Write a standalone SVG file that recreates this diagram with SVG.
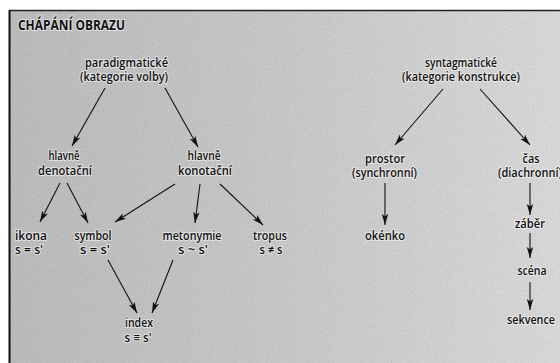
<svg xmlns="http://www.w3.org/2000/svg" width="560" height="363" viewBox="0 0 560 363">
<style>
text{font-family:"Open Sans","Liberation Sans",sans-serif;font-size:13px;font-weight:600;fill:#111;text-anchor:middle;paint-order:stroke;stroke:#f2f2f2;stroke-width:2.2px;stroke-opacity:0.7;stroke-linejoin:round}
.title{font-weight:700;font-size:13.5px;text-anchor:start}
.c line{stroke:#111;stroke-width:1.1;marker-end:url(#ah)}
</style>
<defs>
<linearGradient id="bg" x1="0" y1="0" x2="1" y2="0">
<stop offset="0" stop-color="#b9b9b9"/>
<stop offset="0.45" stop-color="#c6c6c6"/>
<stop offset="1" stop-color="#dcdcdc"/>
</linearGradient>
<filter id="noise" x="0" y="0" width="100%" height="100%">
<feTurbulence type="fractalNoise" baseFrequency="0.95" numOctaves="2" seed="7"/>
<feColorMatrix type="saturate" values="0"/>
</filter>
<marker id="ah" markerUnits="userSpaceOnUse" markerWidth="12" markerHeight="8" refX="11" refY="4" orient="auto">
<path d="M0,0.8 L11,4 L0,7.2 L2.5,4 Z" fill="#111"/>
</marker>
</defs>
<rect x="0" y="0" width="560" height="363" fill="#fff"/>
<rect x="9" y="10" width="551" height="353" fill="url(#bg)"/>
<rect x="9" y="10" width="551" height="353" filter="url(#noise)" opacity="0.38"/>
<line x1="9" y1="10.5" x2="560" y2="10.5" stroke="#222" stroke-width="1.5"/>
<line x1="9.5" y1="10" x2="9.5" y2="363" stroke="#111" stroke-width="2"/>

<g class="c" id="connectors">
<line x1="105" y1="88" x2="72" y2="146"/>
<line x1="165" y1="88" x2="198" y2="147"/>
<line x1="443" y1="89" x2="395" y2="145"/>
<line x1="480" y1="89" x2="530" y2="145"/>
<line x1="60" y1="183" x2="40" y2="222"/>
<line x1="67" y1="183" x2="88" y2="223"/>
<line x1="175" y1="184" x2="115" y2="222"/>
<line x1="200" y1="184" x2="195" y2="223"/>
<line x1="220" y1="184" x2="263" y2="225"/>
<line x1="108" y1="260" x2="137" y2="313"/>
<line x1="173" y1="260" x2="152" y2="313"/>
<line x1="385" y1="183" x2="385" y2="225"/>
<line x1="530" y1="183" x2="530" y2="215"/>
<line x1="530" y1="233" x2="530" y2="258"/>
<line x1="530" y1="282" x2="530" y2="310"/>
</g>

<g id="title"><text class="title" x="18" y="30" textLength="107" lengthAdjust="spacingAndGlyphs">CHÁPÁNÍ OBRAZU</text></g>
<g id="paradigmaticke">
<text x="126.5" y="67" textLength="83" lengthAdjust="spacingAndGlyphs">paradigmatické</text>
<text x="124" y="81" textLength="88" lengthAdjust="spacingAndGlyphs">(kategorie volby)</text>
</g>
<g id="syntagmaticke">
<text x="461" y="67" textLength="72" lengthAdjust="spacingAndGlyphs">syntagmatické</text>
<text x="461" y="81" textLength="118" lengthAdjust="spacingAndGlyphs">(kategorie konstrukce)</text>
</g>
<g id="denotacni">
<text x="64" y="160" textLength="31" lengthAdjust="spacingAndGlyphs">hlavně</text>
<text x="65" y="175" textLength="54" lengthAdjust="spacingAndGlyphs">denotační</text>
</g>
<g id="konotacni">
<text x="204" y="160" textLength="33" lengthAdjust="spacingAndGlyphs">hlavně</text>
<text x="205" y="175" textLength="54" lengthAdjust="spacingAndGlyphs">konotační</text>
</g>
<g id="ikona">
<text x="31" y="240" textLength="32" lengthAdjust="spacingAndGlyphs">ikona</text>
<text x="29" y="254" textLength="28" lengthAdjust="spacingAndGlyphs">s = s'</text>
</g>
<g id="symbol">
<text x="93" y="240" textLength="37" lengthAdjust="spacingAndGlyphs">symbol</text>
<text x="95" y="254" textLength="30" lengthAdjust="spacingAndGlyphs">s = s'</text>
</g>
<g id="metonymie">
<text x="192" y="240" textLength="59" lengthAdjust="spacingAndGlyphs">metonymie</text>
<text x="193" y="254" textLength="30" lengthAdjust="spacingAndGlyphs">s ~ s'</text>
</g>
<g id="tropus">
<text x="270" y="240" textLength="34" lengthAdjust="spacingAndGlyphs">tropus</text>
<text x="271" y="254" textLength="23" lengthAdjust="spacingAndGlyphs">s ≠ s</text>
</g>
<g id="index">
<text x="139" y="327" textLength="28" lengthAdjust="spacingAndGlyphs">index</text>
<text x="138" y="342" textLength="27" lengthAdjust="spacingAndGlyphs">s ≡ s'</text>
</g>
<g id="prostor">
<text x="385" y="163" textLength="40" lengthAdjust="spacingAndGlyphs">prostor</text>
<text x="384.5" y="177" textLength="65" lengthAdjust="spacingAndGlyphs">(synchronní)</text>
</g>
<g id="okenko"><text x="385" y="240" textLength="40" lengthAdjust="spacingAndGlyphs">okénko</text></g>
<g id="cas">
<text x="531" y="163" textLength="17" lengthAdjust="spacingAndGlyphs">čas</text>
<text x="530" y="177" textLength="64" lengthAdjust="spacingAndGlyphs">(diachronní)</text>
</g>
<g id="zaber"><text x="530" y="228" textLength="30" lengthAdjust="spacingAndGlyphs">záběr</text></g>
<g id="scena"><text x="532" y="275" textLength="29" lengthAdjust="spacingAndGlyphs">scéna</text></g>
<g id="sekvence"><text x="531" y="324" textLength="48" lengthAdjust="spacingAndGlyphs">sekvence</text></g>
</svg>
